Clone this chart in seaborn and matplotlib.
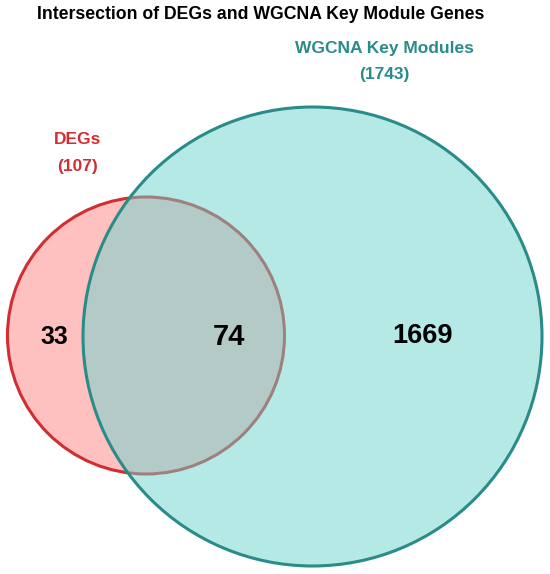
import matplotlib
matplotlib.use("Agg")
import matplotlib.pyplot as plt
from matplotlib.patches import Circle
import seaborn as sns

# ---- data ----
set_names = ["DEGs", "WGCNA Key Modules"]
set_totals = [107, 1743]
region_counts = [33, 74, 1669]  # DEGs only, shared, WGCNA only
title = "Intersection of DEGs and WGCNA Key Module Genes"

sns.set_theme(style="white")
plt.rcParams['font.family'] = ['Liberation Sans', 'DejaVu Sans']

fig = plt.figure(figsize=(5.5, 5.74), dpi=100)
ax = fig.add_axes([0, 0, 1, 1])
ax.set_xlim(0, 550)
ax.set_ylim(574, 0)
ax.set_aspect('equal')
ax.axis('off')

red_fill = "#FFC0C0"
red_edge = "#D22D32"
teal_fill = "#6BD5CD"
teal_edge = "#2A8C89"

# circle geometry (layout)
c_small = (146, 335.5); r_small = 138.5
c_big = (312.5, 336.5); r_big = 229.5

ax.add_patch(Circle(c_small, r_small, facecolor=red_fill, edgecolor=red_edge, lw=2.2, zorder=1))
ax.add_patch(Circle(c_big, r_big, facecolor=teal_fill, edgecolor='none', alpha=0.5, zorder=2))
ax.add_patch(Circle(c_big, r_big, facecolor='none', edgecolor=teal_edge, lw=2.2, zorder=3))

ax.text(261, 14.5, title, ha='center', va='center', fontsize=12.7, fontweight='bold', color='black')
ax.text(384, 48, set_names[1], ha='center', va='center', fontsize=12.5, fontweight='bold', color=teal_edge)
ax.text(384, 75, f"({set_totals[1]})", ha='center', va='center', fontsize=12.5, fontweight='bold', color=teal_edge)
ax.text(78, 140, set_names[0], ha='center', va='center', fontsize=12.5, fontweight='bold', color=red_edge)
ax.text(78, 167, f"({set_totals[0]})", ha='center', va='center', fontsize=12.5, fontweight='bold', color=red_edge)

ax.text(54, 337, str(region_counts[0]), ha='center', va='center', fontsize=18, fontweight='bold', color='black', zorder=5)
ax.text(229, 337, str(region_counts[1]), ha='center', va='center', fontsize=21, fontweight='bold', color='black', zorder=5)
ax.text(423, 336, str(region_counts[2]), ha='center', va='center', fontsize=19.5, fontweight='bold', color='black', zorder=5)

fig.savefig("out.png", dpi=100)
